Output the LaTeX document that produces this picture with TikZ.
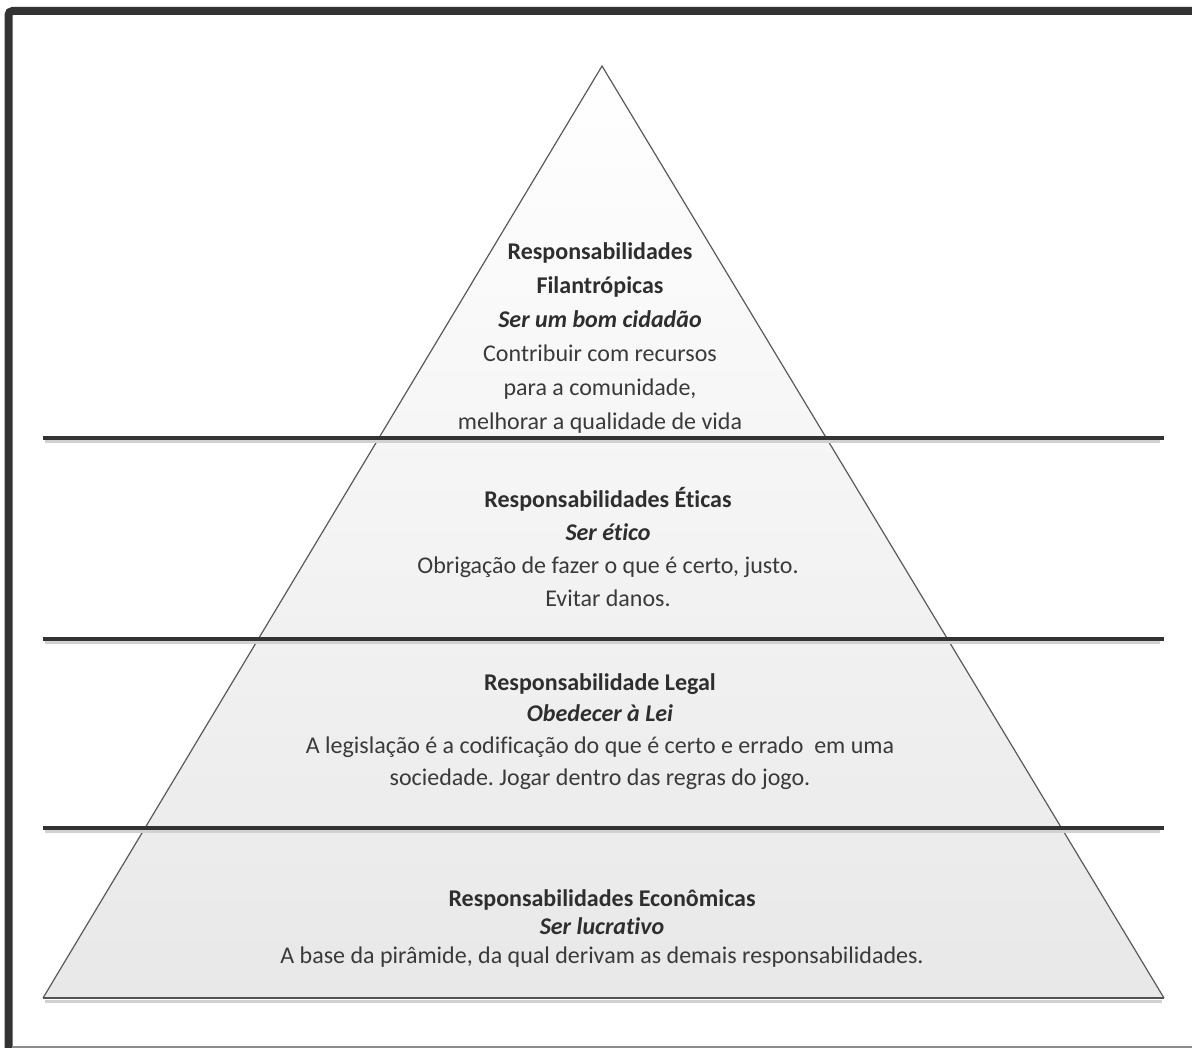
\documentclass[tikz,border=0pt]{standalone}
\usepackage{fontspec}
\setmainfont[RawFeature=-liga]{Carlito}
\definecolor{framec}{HTML}{333333}
\definecolor{txt}{HTML}{3A3A3A}
\definecolor{hdr}{HTML}{2E2E2E}
\definecolor{edgec}{HTML}{5A5A5A}
\frenchspacing
\begin{document}
\begin{tikzpicture}[x=1pt,y=-1pt,
  sep/.style={line width=4pt,color=framec},
  sepshadow/.style={line width=3pt,color=black!18},
  blk/.style={align=center,text=txt,inner sep=0pt,anchor=north},
]
\useasboundingbox (0,0) rectangle (1192,1048);
\fill[white] (0,0) rectangle (1192,1048);
% frame
\draw[line width=8pt,color=framec,rounded corners=4pt] (8.5,1049) -- (8.5,11) -- (1193,11);
\draw[line width=2pt,color=black!45] (12,1047) -- (1192,1047);
% pyramid
\coordinate (apex) at (602,66);
\coordinate (bl) at (43,998);
\coordinate (br) at (1164,998);
\shade[top color=white,bottom color=black!9] (apex) -- (bl) -- (br) -- cycle;
\draw[line width=1.2pt,color=edgec,line join=miter] (bl) -- (apex) -- (br);
\draw[sepshadow] (45,1001.5) -- (1162,1001.5);
\draw[line width=2pt,color=framec!85] (bl) -- (br);
% separators
\foreach \yy/\nm in {438/s1,639/s2,828/s3}{
  \draw[sepshadow] (45,\yy+3.5) -- (1160,\yy+3.5);
  \draw[sep] (43,\yy) coordinate (\nm l) -- (1164,\yy) coordinate (\nm r);
}
% texts
\newcommand{\hd}[1]{\textcolor{hdr}{\textbf{#1}}}
\node[blk,font=\fontsize{24}{34}\selectfont] (t1) at (600,242) {%
  \hd{Responsabilidades}\\ \hd{Filantrópicas}\\ \hd{\textit{Ser um bom cidadão}}\\
  Contribuir com recursos\\ para a comunidade,\\ melhorar a qualidade de vida};
\node[blk,font=\fontsize{24}{33.2}\selectfont] (t2) at (608,487) {%
  \hd{Responsabilidades Éticas}\\ \hd{\textit{Ser ético}}\\
  Obrigação de fazer o que é certo, justo.\\ Evitar danos.};
\node[blk,font=\fontsize{24}{31.7}\selectfont] (t3) at (600,673) {%
  \hd{Responsabilidade Legal}\\ \hd{\textit{Obedecer à Lei}}\\
  A legislação é a codificação do que é certo e errado\ \ em uma\\ sociedade. Jogar dentro das regras do jogo.};
\node[blk,font=\fontsize{24}{28.5}\selectfont] (t4) at (602,889) {%
  \hd{Responsabilidades Econômicas}\\ \hd{\textit{Ser lucrativo}}\\
  A base da pirâmide, da qual derivam as demais responsabilidades.};
\end{tikzpicture}
\end{document}
